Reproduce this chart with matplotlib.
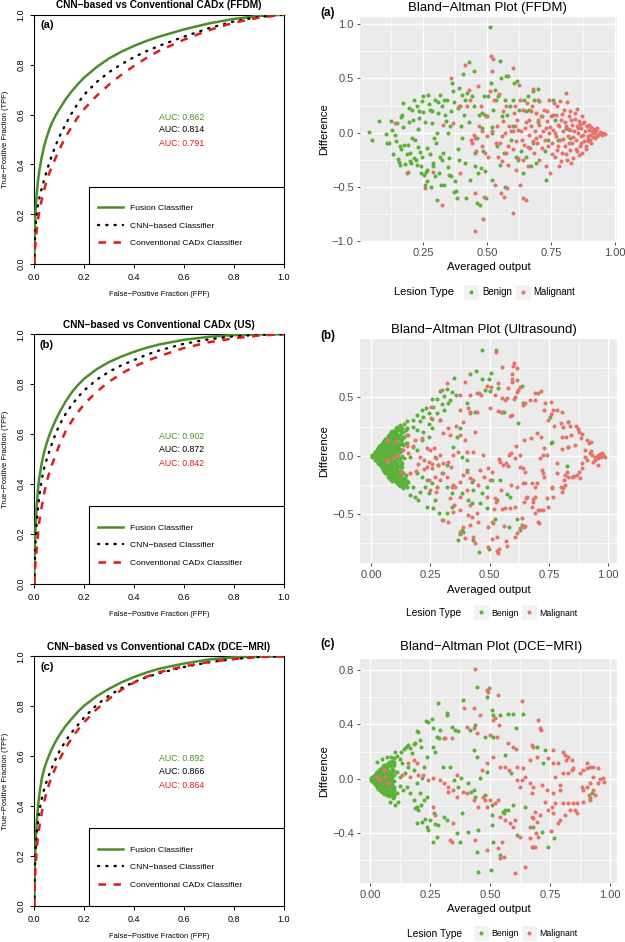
import matplotlib
matplotlib.use('Agg')
import matplotlib.pyplot as plt
from matplotlib.lines import Line2D
from matplotlib.patches import Rectangle

plt.rcParams['font.family'] = ['Liberation Sans', 'DejaVu Sans']

# ---------------- ROC data ----------------
ROC_TITLES = ['CNN\u2212based vs Conventional CADx (FFDM)',
              'CNN\u2212based vs Conventional CADx (US)',
              'CNN\u2212based vs Conventional CADx (DCE\u2212MRI)']
ROC_TAGS = ['(a)', '(b)', '(c)']
AUC_FUSION = ['0.862', '0.902', '0.892']
AUC_CNN = ['0.814', '0.872', '0.866']
AUC_CONV = ['0.791', '0.842', '0.864']
LEGEND_LABELS = ['Fusion Classifier', 'CNN\u2212based Classifier', 'Conventional CADx Classifier']

FUSION_A_FPF = [0, 0.001, 0.003, 0.006, 0.01, 0.015, 0.02, 0.03, 0.04, 0.05, 0.06, 0.07, 0.085, 0.1, 0.125, 0.15,
                0.175, 0.2, 0.25, 0.3, 0.35, 0.4, 0.45, 0.5, 0.6, 0.7, 0.8, 0.9, 1.0]
FUSION_A_TPF = [0, 0.10, 0.17, 0.23, 0.285, 0.335, 0.375, 0.43, 0.475, 0.51, 0.54, 0.565, 0.595, 0.62, 0.66, 0.693,
                0.722, 0.748, 0.79, 0.825, 0.852, 0.875, 0.895, 0.912, 0.941, 0.965, 0.983, 0.995, 1.0]
CNN_A_FPF = [0, 0.003, 0.006, 0.01, 0.015, 0.02, 0.03, 0.04, 0.05, 0.06, 0.07, 0.085, 0.1, 0.125, 0.15, 0.175, 0.2,
             0.25, 0.3, 0.35, 0.4, 0.45, 0.5, 0.6, 0.7, 0.8, 0.9, 1.0]
CNN_A_TPF = [0, 0.11, 0.16, 0.205, 0.24, 0.265, 0.305, 0.34, 0.375, 0.405, 0.435, 0.475, 0.51, 0.56, 0.605, 0.645, 0.68,
             0.73, 0.77, 0.802, 0.83, 0.854, 0.875, 0.912, 0.946, 0.973, 0.991, 1.0]
CONV_A_FPF = [0, 0.003, 0.006, 0.01, 0.015, 0.02, 0.03, 0.04, 0.05, 0.06, 0.07, 0.085, 0.1, 0.125, 0.15, 0.175, 0.2,
              0.25, 0.3, 0.35, 0.4, 0.45, 0.5, 0.6, 0.7, 0.8, 0.9, 1.0]
CONV_A_TPF = [0, 0.06, 0.10, 0.14, 0.18, 0.21, 0.26, 0.30, 0.335, 0.365, 0.39, 0.425, 0.458, 0.51, 0.55, 0.59, 0.622,
              0.675, 0.72, 0.76, 0.795, 0.827, 0.855, 0.90, 0.938, 0.968, 0.988, 1.0]

FUSION_B_FPF = [0, 0.001, 0.003, 0.006, 0.01, 0.015, 0.02, 0.03, 0.04, 0.05, 0.06, 0.07, 0.085, 0.1, 0.125, 0.15,
                0.175, 0.2, 0.25, 0.3, 0.35, 0.4, 0.45, 0.5, 0.6, 0.7, 0.8, 0.9, 1.0]
FUSION_B_TPF = [0, 0.10, 0.18, 0.25, 0.32, 0.38, 0.425, 0.485, 0.53, 0.565, 0.595, 0.62, 0.655, 0.685, 0.73, 0.767,
                0.797, 0.822, 0.86, 0.889, 0.911, 0.93, 0.946, 0.959, 0.978, 0.99, 0.997, 0.9995, 1.0]
CNN_B_FPF = [0, 0.003, 0.006, 0.01, 0.015, 0.02, 0.03, 0.04, 0.05, 0.06, 0.07, 0.085, 0.1, 0.125, 0.15, 0.175, 0.2,
             0.25, 0.3, 0.35, 0.4, 0.45, 0.5, 0.6, 0.7, 0.8, 0.9, 1.0]
CNN_B_TPF = [0, 0.13, 0.19, 0.25, 0.305, 0.35, 0.42, 0.465, 0.50, 0.53, 0.56, 0.60, 0.635, 0.68, 0.717, 0.748, 0.775,
             0.818, 0.85, 0.876, 0.897, 0.918, 0.935, 0.962, 0.98, 0.992, 0.998, 1.0]
CONV_B_FPF = [0, 0.003, 0.006, 0.01, 0.015, 0.02, 0.03, 0.04, 0.05, 0.06, 0.07, 0.085, 0.1, 0.125, 0.15, 0.175, 0.2,
              0.25, 0.3, 0.35, 0.4, 0.45, 0.5, 0.6, 0.7, 0.8, 0.9, 1.0]
CONV_B_TPF = [0, 0.06, 0.10, 0.145, 0.20, 0.25, 0.31, 0.365, 0.41, 0.445, 0.475, 0.515, 0.555, 0.61, 0.652, 0.688, 0.72,
              0.77, 0.81, 0.843, 0.87, 0.893, 0.912, 0.945, 0.968, 0.984, 0.995, 1.0]

FUSION_C_FPF = [0, 0.001, 0.003, 0.006, 0.01, 0.015, 0.02, 0.03, 0.04, 0.05, 0.06, 0.07, 0.085, 0.1, 0.125, 0.15,
                0.175, 0.2, 0.25, 0.3, 0.35, 0.4, 0.45, 0.5, 0.6, 0.7, 0.8, 0.9, 1.0]
FUSION_C_TPF = [0, 0.12, 0.20, 0.27, 0.34, 0.40, 0.445, 0.51, 0.55, 0.58, 0.605, 0.628, 0.658, 0.683, 0.72, 0.75,
                0.778, 0.802, 0.84, 0.87, 0.896, 0.917, 0.935, 0.95, 0.971, 0.987, 0.996, 0.999, 1.0]
CNN_C_FPF = [0, 0.003, 0.006, 0.01, 0.015, 0.02, 0.03, 0.04, 0.05, 0.06, 0.07, 0.085, 0.1, 0.125, 0.15, 0.175, 0.2,
             0.25, 0.3, 0.35, 0.4, 0.45, 0.5, 0.6, 0.7, 0.8, 0.9, 1.0]
CNN_C_TPF = [0, 0.17, 0.24, 0.29, 0.34, 0.38, 0.43, 0.47, 0.50, 0.527, 0.552, 0.587, 0.618, 0.66, 0.695, 0.725, 0.755,
             0.805, 0.843, 0.873, 0.897, 0.916, 0.932, 0.957, 0.976, 0.989, 0.997, 1.0]
CONV_C_FPF = [0, 0.003, 0.006, 0.01, 0.015, 0.02, 0.03, 0.04, 0.05, 0.06, 0.07, 0.085, 0.1, 0.125, 0.15, 0.175, 0.2,
              0.25, 0.3, 0.35, 0.4, 0.45, 0.5, 0.6, 0.7, 0.8, 0.9, 1.0]
CONV_C_TPF = [0, 0.12, 0.17, 0.23, 0.28, 0.315, 0.375, 0.42, 0.458, 0.49, 0.518, 0.553, 0.585, 0.632, 0.672, 0.706,
              0.736, 0.788, 0.83, 0.866, 0.895, 0.918, 0.936, 0.96, 0.977, 0.989, 0.997, 1.0]

# ---------------- Bland-Altman data (averaged output, difference) ----------------
BA_TITLES = ['Bland\u2212Altman Plot (FFDM)', 'Bland\u2212Altman Plot (Ultrasound)', 'Bland\u2212Altman Plot (DCE\u2212MRI)']
LESION_LABELS = ['Benign', 'Malignant']

FFDM_BENIGN = [
    (0.039, 0.006), (0.049, -0.065), (0.076, 0.11), (0.103, -0.01), (0.109, -0.096), (0.116, -0.10), (0.125, 0.105),
    (0.129, 0.028), (0.132, -0.20), (0.138, -0.02), (0.142, -0.08), (0.146, 0.09), (0.151, -0.24), (0.155, -0.27),
    (0.158, -0.127), (0.162, -0.15), (0.164, 0.145), (0.167, 0.16), (0.171, 0.27), (0.175, -0.117), (0.18, -0.29),
    (0.186, -0.37), (0.19, -0.117), (0.193, 0.23), (0.197, -0.26), (0.2, -0.19), (0.204, -0.28), (0.208, 0.21),
    (0.21, 0.12), (0.214, -0.235), (0.217, -0.065), (0.22, -0.25), (0.224, 0.25), (0.228, -0.13), (0.23, 0.037),
    (0.233, 0.136), (0.237, -0.18), (0.241, -0.37), (0.243, -0.31), (0.246, 0.29), (0.249, 0.336), (0.251, 0.194),
    (0.254, -0.39), (0.257, -0.48), (0.26, -0.36), (0.263, -0.14), (0.266, -0.34), (0.27, 0.35), (0.272, 0.26),
    (0.276, 0.21), (0.28, -0.5), (0.283, 0.09), (0.287, -0.28), (0.29, -0.31), (0.293, -0.05), (0.296, 0.305),
    (0.3, -0.1), (0.303, -0.62), (0.307, 0.28), (0.309, 0.18), (0.312, -0.37), (0.316, 0.35), (0.32, -0.48),
    (0.322, 0.244), (0.325, -0.25), (0.329, -0.19), (0.333, -0.48), (0.336, 0.167), (0.34, 0.105), (0.342, 0.305),
    (0.346, -0.003), (0.349, -0.235), (0.351, -0.39), (0.355, 0.059), (0.359, -0.40), (0.364, 0.46), (0.368, 0.38),
    (0.371, -0.55), (0.375, -0.45), (0.379, -0.54), (0.382, -0.6), (0.386, 0.228), (0.388, -0.25), (0.391, 0.41),
    (0.395, 0.244), (0.399, 0.059), (0.401, -0.05), (0.404, 0.537), (0.408, 0.167), (0.412, -0.28), (0.414, 0.305),
    (0.418, -0.6), (0.421, 0.367), (0.428, 0.654), (0.434, -0.435), (0.441, 0.336), (0.447, 0.568), (0.451, -0.188),
    (0.454, -0.31), (0.46, -0.65), (0.464, -0.373), (0.467, 0.167), (0.47, -0.667), (0.474, -0.327), (0.478, 0.043),
    (0.48, 0.182), (0.484, -0.173), (0.487, 0.336), (0.491, 0.167), (0.496, -0.6), (0.5, 0.151), (0.504, 0.336),
    (0.509, 0.97), (0.513, 0.46), (0.517, -0.003), (0.52, -0.435), (0.524, 0.213), (0.53, 0.398), (0.536, 0.305),
    (0.539, -0.127), (0.543, 0.336), (0.549, 0.66), (0.553, 0.506), (0.559, 0.151), (0.566, -0.188), (0.57, -0.497),
    (0.572, 0.52), (0.579, 0.167), (0.583, 0.52), (0.588, 0.244), (0.592, -0.065), (0.599, 0.059), (0.605, 0.46),
    (0.612, -0.22), (0.618, 0.475), (0.625, 0.213), (0.632, -0.173), (0.638, -0.373), (0.645, 0.305), (0.651, -0.22),
    (0.658, 0.336), (0.664, 0.213), (0.671, -0.31), (0.678, 0.383), (0.684, 0.305), (0.691, -0.28), (0.697, 0.404),
    (0.704, 0.29), (0.714, 0.151), (0.724, -0.173), (0.728, -0.435), (0.737, -0.065), (0.757, 0.305), (0.763, 0.12),
    (0.776, -0.065), (0.809, 0.043), (0.822, -0.05),
    (0.16, -0.3), (0.17, 0.05), (0.185, -0.2), (0.195, 0.1), (0.205, -0.05), (0.215, 0.3), (0.225, -0.3),
    (0.235, 0.2), (0.245, -0.22), (0.255, 0.1), (0.265, -0.45), (0.275, -0.2), (0.285, 0.2), (0.295, -0.4),
    (0.305, 0.0), (0.315, -0.22), (0.33, 0.3), (0.345, -0.32), (0.36, 0.2), (0.37, 0.28), (0.385, -0.15),
    (0.4, 0.35), (0.43, 0.1), (0.45, 0.25), (0.46, -0.05), (0.49, -0.35), (0.52, 0.05), (0.55, -0.3),
    (0.57, 0.3), (0.6, 0.3), (0.62, -0.25), (0.65, 0.2), (0.68, -0.1), (0.7, 0.1)]

FFDM_MALIGNANT = [
    (0.138, 0.09), (0.191, -0.367), (0.257, -0.51), (0.29, -0.364), (0.325, -0.667), (0.329, 0.074), (0.359, 0.5),
    (0.366, 0.09), (0.388, 0.244), (0.395, -0.373), (0.414, 0.623), (0.421, 0.244), (0.428, 0.398), (0.434, 0.305),
    (0.438, -0.065), (0.441, -0.096), (0.447, -0.018), (0.451, -0.05), (0.454, -0.56), (0.458, -0.173), (0.463, 0.43),
    (0.467, 0.059), (0.474, 0.244), (0.478, 0.012), (0.48, -0.127), (0.484, -0.8), (0.487, -0.59), (0.451, -0.91),
    (0.493, -0.188), (0.496, 0.151), (0.5, -0.034), (0.504, -0.22), (0.509, 0.383), (0.513, 0.707), (0.517, 0.568),
    (0.52, 0.012), (0.524, 0.676), (0.526, 0.305), (0.53, -0.48), (0.533, -0.096), (0.537, 0.059), (0.542, -0.22),
    (0.546, 0.352), (0.549, -0.096), (0.553, -0.56), (0.557, -0.034), (0.559, -0.265), (0.562, 0.105), (0.566, -0.59),
    (0.57, -0.003), (0.572, -0.188), (0.575, 0.244), (0.579, -0.51), (0.583, -0.127), (0.586, 0.059), (0.592, 0.012),
    (0.599, 0.6), (0.601, -0.737), (0.605, 0.182), (0.609, 0.059), (0.612, -0.08), (0.614, -0.343), (0.618, 0.12),
    (0.622, -0.235), (0.625, 0.444), (0.628, -0.48), (0.632, 0.012), (0.636, -0.065), (0.638, 0.213), (0.641, -0.6),
    (0.645, -0.111), (0.649, 0.043), (0.651, -0.62), (0.654, 0.275), (0.658, -0.31), (0.662, -0.018), (0.664, 0.12),
    (0.668, -0.142), (0.671, 0.059), (0.675, 0.244), (0.678, 0.404), (0.68, -0.08), (0.684, -0.188), (0.688, 0.012),
    (0.691, 0.182), (0.693, -0.096), (0.697, 0.305), (0.701, -0.25), (0.704, 0.074), (0.707, -0.034), (0.711, 0.151),
    (0.714, -0.142), (0.717, 0.012), (0.72, 0.213), (0.724, -0.065), (0.728, 0.043), (0.73, -0.31), (0.733, 0.105),
    (0.737, -0.127), (0.741, -0.003), (0.743, 0.305), (0.746, -0.373), (0.75, 0.151), (0.754, -0.096), (0.757, 0.028),
    (0.759, 0.275), (0.763, -0.22), (0.767, -0.034), (0.77, 0.167), (0.772, -0.157), (0.776, 0.074), (0.78, -0.31),
    (0.783, 0.29), (0.786, -0.065), (0.789, 0.12), (0.793, -0.188), (0.796, 0.012), (0.799, 0.213), (0.803, -0.127),
    (0.807, 0.367), (0.809, 0.059), (0.812, -0.25), (0.816, -0.034), (0.82, 0.151), (0.822, -0.157), (0.825, 0.028),
    (0.829, 0.12), (0.833, -0.096), (0.836, -0.235), (0.838, 0.012), (0.842, 0.182), (0.846, -0.065), (0.849, 0.059),
    (0.851, -0.173), (0.855, -0.003), (0.859, 0.105), (0.862, -0.127), (0.866, -0.034), (0.868, 0.043), (0.872, -0.188),
    (0.875, 0.09), (0.879, -0.08), (0.882, 0.012), (0.886, -0.127), (0.888, 0.059), (0.892, -0.034), (0.895, -0.08),
    (0.899, 0.028), (0.901, -0.018), (0.905, -0.096), (0.909, 0.012), (0.914, -0.04), (0.92, -0.003), (0.925, 0.022),
    (0.93, -0.034), (0.936, -0.009), (0.941, 0.003), (0.947, -0.022), (0.954, -0.003), (0.96, -0.012), (0.599, 0.012),
    (0.735, 0.2), (0.745, 0.05), (0.752, -0.2), (0.758, 0.16), (0.765, 0.0), (0.772, 0.25), (0.778, -0.12),
    (0.782, 0.06), (0.788, -0.26), (0.792, 0.17), (0.797, -0.06), (0.802, 0.1), (0.806, -0.2), (0.811, 0.28),
    (0.815, 0.03), (0.819, -0.1), (0.824, 0.2), (0.828, -0.28), (0.832, 0.07), (0.837, -0.04), (0.841, 0.13),
    (0.846, -0.15), (0.85, 0.22), (0.854, 0.04), (0.858, -0.21), (0.863, 0.08), (0.867, -0.1), (0.871, 0.15),
    (0.876, -0.02), (0.88, 0.1), (0.885, -0.15), (0.89, 0.06), (0.894, -0.06), (0.898, 0.07), (0.903, -0.07),
    (0.907, 0.05), (0.912, 0.0), (0.918, 0.03), (0.923, -0.05), (0.928, 0.04), (0.7, 0.12), (0.69, -0.05),
    (0.67, 0.2), (0.66, -0.13), (0.65, 0.1), (0.64, -0.25), (0.63, 0.3), (0.62, 0.02), (0.61, 0.25), (0.6, -0.15),
    (0.58, -0.3), (0.56, 0.2)]

US_BENIGN = [
    (0.005, 0.0), (0.005, 0.008), (0.005, -0.008), (0.01, 0.015), (0.01, -0.01), (0.01, 0.0),
    (0.015, 0.03), (0.015, -0.02), (0.015, 0.01), (0.015, -0.035),
    (0.02, 0.04), (0.02, 0.0), (0.02, -0.04), (0.02, 0.02), (0.02, -0.02),
    (0.025, 0.05), (0.025, 0.02), (0.025, -0.01), (0.025, -0.05), (0.025, 0.035),
    (0.03, 0.07), (0.03, 0.03), (0.03, -0.02), (0.03, -0.06), (0.03, 0.0), (0.03, 0.05),
    (0.035, 0.08), (0.035, 0.04), (0.035, -0.03), (0.035, -0.075), (0.035, 0.01), (0.035, -0.05),
    (0.04, 0.09), (0.04, 0.05), (0.04, 0.01), (0.04, -0.04), (0.04, -0.09), (0.04, 0.07), (0.04, -0.065),
    (0.045, 0.1), (0.045, 0.06), (0.045, 0.02), (0.045, -0.02), (0.045, -0.06), (0.045, -0.1),
    (0.05, 0.12), (0.05, 0.08), (0.05, 0.03), (0.05, -0.01), (0.05, -0.05), (0.05, -0.09), (0.05, -0.12),
    (0.055, 0.13), (0.055, 0.09), (0.055, 0.05), (0.055, 0.0), (0.055, -0.04), (0.055, -0.08), (0.055, -0.13),
    (0.06, 0.14), (0.06, 0.1), (0.06, 0.06), (0.06, 0.02), (0.06, -0.03), (0.06, -0.07), (0.06, -0.11), (0.06, -0.15),
    (0.065, 0.15), (0.065, 0.11), (0.065, 0.07), (0.065, 0.03), (0.065, -0.02), (0.065, -0.06), (0.065, -0.1), (0.065, -0.14),
    (0.07, 0.17), (0.07, 0.12), (0.07, 0.08), (0.07, 0.04), (0.07, -0.01), (0.07, -0.05), (0.07, -0.1), (0.07, -0.15), (0.07, -0.18),
    (0.075, 0.18), (0.075, 0.14), (0.075, 0.09), (0.075, 0.05), (0.075, 0.0), (0.075, -0.04), (0.075, -0.09), (0.075, -0.13), (0.075, -0.17),
    (0.08, 0.19), (0.08, 0.15), (0.08, 0.1), (0.08, 0.06), (0.08, 0.01), (0.08, -0.03), (0.08, -0.08), (0.08, -0.12), (0.08, -0.17), (0.08, -0.2),
    (0.085, 0.2), (0.085, 0.16), (0.085, 0.11), (0.085, 0.07), (0.085, 0.02), (0.085, -0.02), (0.085, -0.07), (0.085, -0.11), (0.085, -0.15), (0.085, -0.19),
    (0.09, 0.21), (0.09, 0.17), (0.09, 0.12), (0.09, 0.08), (0.09, 0.03), (0.09, -0.01), (0.09, -0.06), (0.09, -0.1), (0.09, -0.14), (0.09, -0.18), (0.09, -0.22),
    (0.095, 0.2), (0.095, 0.14), (0.095, 0.09), (0.095, 0.04), (0.095, 0.0), (0.095, -0.05), (0.095, -0.09), (0.095, -0.13), (0.095, -0.2),
    (0.1, 0.22), (0.1, 0.18), (0.1, 0.13), (0.1, 0.1), (0.1, 0.05), (0.1, 0.01), (0.1, -0.04), (0.1, -0.08), (0.1, -0.12), (0.1, -0.16), (0.1, -0.21),
    (0.105, 0.24), (0.105, 0.16), (0.105, 0.11), (0.105, 0.06), (0.105, -0.03), (0.105, -0.11), (0.105, -0.19), (0.105, -0.23),
    (0.11, 0.25), (0.11, 0.19), (0.11, 0.12), (0.11, 0.07), (0.11, 0.02), (0.11, -0.06), (0.11, -0.1), (0.11, -0.15), (0.11, -0.21),
    (0.115, 0.22), (0.115, 0.15), (0.115, 0.08), (0.115, -0.02), (0.115, -0.13), (0.115, -0.18), (0.115, -0.24),
    (0.12, 0.26), (0.12, 0.18), (0.12, 0.1), (0.12, 0.03), (0.12, -0.05), (0.12, -0.12), (0.12, -0.2), (0.12, -0.26),
    (0.125, 0.21), (0.125, 0.12), (0.125, -0.08), (0.125, -0.17), (0.125, -0.22),
    (0.13, 0.24), (0.13, 0.14), (0.13, 0.05), (0.13, -0.1), (0.13, -0.19), (0.13, -0.25),
    (0.135, 0.2), (0.135, 0.09), (0.135, -0.15), (0.135, -0.22), (0.135, -0.28),
    (0.14, 0.27), (0.14, 0.16), (0.14, -0.02), (0.14, -0.2), (0.14, -0.26),
    (0.145, 0.22), (0.145, 0.11), (0.145, -0.17), (0.145, -0.24), (0.15, 0.3), (0.15, 0.18), (0.15, -0.22), (0.15, -0.27),
    (0.466, 0.905), (0.527, 0.911), (0.417, 0.704), (0.442, 0.724), (0.466, 0.661), (0.499, 0.661), (0.35, 0.667),
    (0.291, 0.56), (0.319, 0.572), (0.34, 0.549), (0.358, 0.523), (0.309, 0.509), (0.277, 0.491), (0.256, 0.489),
    (0.333, 0.48), (0.326, 0.451), (0.298, 0.445), (0.263, 0.422), (0.232, 0.408), (0.213, 0.394), (0.246, 0.365),
    (0.277, 0.365), (0.306, 0.394), (0.192, 0.351), (0.218, 0.336), (0.256, 0.319), (0.291, 0.307), (0.178, 0.307),
    (0.206, 0.302), (0.242, 0.273), (0.178, 0.25), (0.153, 0.236), (0.192, 0.221), (0.218, 0.207), (0.256, 0.236),
    (0.375, 0.236), (0.403, 0.451), (0.417, 0.365), (0.361, 0.164), (0.347, 0.078), (0.385, -0.009), (0.403, -0.037),
    (0.438, 0.379), (0.504, 0.71), (0.48, 0.566), (0.501, 0.552), (0.537, 0.58), (0.551, 0.379), (0.56, 0.379),
    (0.635, 0.6), (0.621, 0.279), (0.639, 0.451), (0.754, 0.336), (0.757, 0.106), (0.761, 0.121), (0.824, -0.089),
    (0.831, 0.293), (0.831, 0.078), (0.572, -0.333), (0.586, -0.353), (0.617, -0.54), (0.628, -0.641), (0.635, -0.598),
    (0.583, -0.612), (0.522, -0.543), (0.466, -0.325), (0.431, -0.296), (0.424, -0.224), (0.403, -0.124), (0.41, -0.382),
    (0.424, -0.411), (0.382, -0.325), (0.389, -0.655), (0.382, -0.641), (0.368, -0.727), (0.375, -0.67), (0.431, -0.727),
    (0.455, -0.828), (0.499, -0.799), (0.459, -0.411), (0.487, -0.454), (0.529, -0.382), (0.34, -0.44), (0.305, -0.555),
    (0.319, -0.497), (0.288, -0.497), (0.263, -0.454), (0.235, -0.44), (0.242, -0.325), (0.228, -0.267), (0.206, -0.31),
    (0.199, -0.382), (0.185, -0.353), (0.164, -0.339), (0.178, -0.267), (0.157, -0.224), (0.136, -0.239), (0.122, -0.21),
    (0.143, -0.195), (0.192, -0.152), (0.213, -0.181), (0.235, -0.21), (0.256, -0.239), (0.277, -0.267), (0.298, -0.152),
    (0.319, -0.267), (0.34, -0.325), (0.27, -0.382), (0.319, -0.08), (0.284, -0.08), (0.27, -0.009), (0.164, -0.009),
    (0.178, 0.078), (0.15, 0.106), (0.192, 0.049), (0.213, 0.135), (0.242, 0.164), (0.136, 0.164), (0.487, -0.267),
    (0.508, -0.21), (0.544, -0.21)]

US_BENIGN_CORE = [
    (0.01, 0.005), (0.01, -0.005), (0.02, 0.01), (0.02, -0.01), (0.02, 0.03), (0.02, -0.03),
    (0.03, 0.015), (0.03, -0.04), (0.03, 0.06), (0.03, -0.03),
    (0.04, 0.03), (0.04, -0.01), (0.04, -0.03), (0.04, 0.08), (0.04, -0.08),
    (0.05, 0.1), (0.05, 0.055), (0.05, 0.01), (0.05, -0.03), (0.05, -0.07), (0.05, -0.105),
    (0.06, 0.12), (0.06, 0.08), (0.06, 0.04), (0.06, 0.0), (0.06, -0.05), (0.06, -0.09), (0.06, -0.13),
    (0.07, 0.14), (0.07, 0.1), (0.07, 0.06), (0.07, 0.02), (0.07, -0.03), (0.07, -0.07), (0.07, -0.12), (0.07, -0.16),
    (0.08, 0.17), (0.08, 0.125), (0.08, 0.08), (0.08, 0.035), (0.08, -0.01), (0.08, -0.055), (0.08, -0.1),
    (0.08, -0.145), (0.08, -0.185),
    (0.09, 0.19), (0.09, 0.145), (0.09, 0.1), (0.09, 0.055), (0.09, 0.01), (0.09, -0.035), (0.09, -0.08),
    (0.09, -0.12), (0.09, -0.16), (0.09, -0.2),
    (0.1, 0.2), (0.1, 0.155), (0.1, 0.115), (0.1, 0.075), (0.1, 0.03), (0.1, -0.02), (0.1, -0.06), (0.1, -0.1),
    (0.1, -0.14), (0.1, -0.185),
    (0.11, 0.22), (0.11, 0.16), (0.11, 0.1), (0.11, 0.045), (0.11, -0.02), (0.11, -0.08), (0.11, -0.13),
    (0.11, -0.18), (0.11, -0.23),
    (0.12, 0.23), (0.12, 0.14), (0.12, 0.06), (0.12, -0.02), (0.12, -0.09), (0.12, -0.16), (0.12, -0.23),
    (0.13, 0.2), (0.13, 0.1), (0.13, 0.0), (0.13, -0.06), (0.13, -0.14), (0.13, -0.22)]

US_MALIGNANT = [
    (0.527, 0.888), (0.553, 0.759), (0.604, 0.794), (0.6, 0.771), (0.615, 0.756), (0.596, 0.702), (0.593, 0.656),
    (0.593, 0.636), (0.614, 0.65), (0.628, 0.593), (0.621, 0.564), (0.614, 0.55), (0.607, 0.507), (0.604, 0.49),
    (0.576, 0.585), (0.537, 0.628), (0.487, 0.599), (0.506, 0.593), (0.522, 0.521), (0.565, 0.479), (0.55, 0.493),
    (0.571, 0.493), (0.67, 0.479), (0.691, 0.479), (0.691, 0.536), (0.705, 0.536), (0.716, 0.559), (0.649, 0.45),
    (0.639, 0.436), (0.733, 0.45), (0.758, 0.464), (0.73, 0.393), (0.768, 0.393), (0.786, 0.393), (0.803, 0.378),
    (0.759, 0.358), (0.744, 0.307), (0.534, 0.387), (0.548, 0.378), (0.593, 0.35), (0.586, 0.341), (0.501, 0.407),
    (0.831, 0.292), (0.838, 0.255), (0.864, 0.255), (0.873, 0.226), (0.876, 0.203), (0.89, 0.186), (0.887, 0.149),
    (0.91, 0.135), (0.927, 0.12), (0.918, 0.106), (0.8, 0.278), (0.772, 0.255), (0.81, 0.249), (0.841, 0.178),
    (0.82, 0.163), (0.806, 0.163), (0.86, 0.092), (0.829, 0.077), (0.806, 0.054), (0.902, 0.049), (0.927, 0.043),
    (0.923, 0.02), (0.933, 0.006), (0.944, -0.009), (0.955, 0.006), (0.965, 0.014), (0.975, 0.02), (0.979, 0.006),
    (0.986, -0.009), (0.969, -0.009), (0.958, -0.023), (0.944, -0.037), (0.937, -0.052), (0.955, -0.08),
    (0.902, -0.009), (0.909, -0.037), (0.888, -0.066), (0.888, -0.109), (0.876, -0.138), (0.867, -0.166),
    (0.881, -0.195), (0.857, -0.175), (0.849, -0.181), (0.824, -0.138), (0.817, -0.166), (0.829, -0.186),
    (0.815, -0.209), (0.817, -0.252), (0.8, -0.266), (0.81, -0.281), (0.803, -0.309), (0.782, -0.152), (0.786, -0.066),
    (0.761, -0.266), (0.768, -0.352), (0.761, -0.281), (0.74, -0.367), (0.747, -0.438), (0.726, -0.467), (0.712, -0.467),
    (0.705, -0.567), (0.691, -0.352), (0.691, -0.266), (0.698, -0.238), (0.677, -0.238), (0.684, -0.375), (0.681, -0.395),
    (0.656, -0.352), (0.649, -0.238), (0.642, -0.232), (0.649, -0.138), (0.726, -0.152), (0.73, -0.181), (0.719, -0.123),
    (0.712, -0.023), (0.726, 0.006), (0.74, 0.006), (0.73, 0.063), (0.716, 0.163), (0.698, 0.192), (0.674, 0.149),
    (0.646, 0.135), (0.61, 0.083), (0.628, 0.006), (0.59, 0.02), (0.581, 0.006), (0.567, -0.066), (0.558, -0.08),
    (0.576, -0.089), (0.539, -0.032), (0.542, -0.052), (0.628, -0.095), (0.642, -0.109), (0.607, -0.023),
    (0.511, -0.138), (0.5, -0.209), (0.487, -0.352), (0.522, -0.367), (0.525, -0.395), (0.548, -0.295), (0.59, -0.252),
    (0.614, -0.266), (0.646, -0.395), (0.653, -0.367), (0.68, -0.444), (0.691, -0.496), (0.705, -0.467), (0.708, -0.576),
    (0.52, -0.461), (0.551, -0.461), (0.565, -0.453), (0.586, -0.447), (0.607, -0.438), (0.635, -0.539), (0.646, -0.61),
    (0.508, -0.567), (0.515, -0.582), (0.562, -0.605), (0.614, -0.662), (0.607, -0.696), (0.628, -0.625), (0.649, -0.605),
    (0.53, -0.696), (0.508, -0.719), (0.567, -0.733), (0.571, -0.776), (0.53, -0.817), (0.539, -0.805), (0.534, -0.84),
    (0.492, -0.61),
    (0.066, -0.037), (0.094, -0.023), (0.115, 0.006), (0.136, 0.049), (0.15, 0.083), (0.157, 0.02), (0.178, 0.083),
    (0.185, 0.135), (0.213, 0.149), (0.235, 0.063), (0.249, 0.049), (0.265, 0.063), (0.206, -0.009), (0.221, -0.037),
    (0.242, -0.052), (0.256, -0.072), (0.274, -0.023), (0.291, 0.006), (0.235, -0.095), (0.256, -0.109), (0.221, -0.117),
    (0.199, -0.072), (0.19, -0.129), (0.162, -0.152), (0.284, -0.08), (0.305, -0.066), (0.326, -0.052), (0.336, -0.095),
    (0.347, 0.006), (0.368, 0.034), (0.251, 0.421), (0.298, 0.564), (0.322, 0.622), (0.375, 0.521), (0.396, 0.636),
    (0.417, 0.521), (0.445, 0.536), (0.456, 0.536), (0.462, 0.521), (0.375, 0.393), (0.41, 0.407), (0.417, 0.378),
    (0.445, 0.378), (0.251, 0.321), (0.291, 0.307), (0.326, 0.235), (0.358, 0.255), (0.389, 0.292), (0.438, 0.206),
    (0.302, 0.192), (0.333, 0.178), (0.375, 0.178), (0.396, 0.135), (0.403, 0.034), (0.431, 0.034), (0.473, 0.006),
    (0.305, -0.152), (0.322, -0.181), (0.344, -0.252), (0.34, -0.266), (0.354, -0.266), (0.375, -0.223), (0.389, -0.166),
    (0.403, -0.138), (0.417, -0.195), (0.431, -0.209), (0.452, -0.252), (0.459, -0.123), (0.476, -0.181), (0.494, -0.109),
    (0.277, -0.266), (0.291, -0.209), (0.27, -0.181), (0.242, -0.209), (0.249, -0.295), (0.274, -0.309), (0.298, -0.553),
    (0.326, -0.567), (0.351, -0.424), (0.347, -0.481), (0.375, -0.467), (0.386, -0.61), (0.396, -0.711), (0.375, -0.653),
    (0.417, -0.596), (0.431, -0.696), (0.438, -0.754), (0.445, -0.496), (0.424, -0.524), (0.452, -0.567), (0.417, -0.424),
    (0.494, -0.782), (0.41, -0.51), (0.333, -0.367), (0.375, -0.352), (0.403, -0.295),
    (0.066, 0.135), (0.068, -0.05), (0.1, 0.12), (0.127, -0.15), (0.155, 0.18)]

MRI_BENIGN = [
    (0.005, 0.0), (0.005, 0.008), (0.005, -0.006), (0.01, 0.012), (0.01, -0.01), (0.01, 0.0), (0.01, -0.02),
    (0.015, 0.02), (0.015, -0.015), (0.015, 0.005), (0.015, -0.03),
    (0.02, 0.03), (0.02, 0.0), (0.02, -0.025), (0.02, -0.04), (0.02, 0.015),
    (0.025, 0.04), (0.025, 0.01), (0.025, -0.02), (0.025, -0.045), (0.025, 0.025),
    (0.03, 0.05), (0.03, 0.02), (0.03, -0.01), (0.03, -0.04), (0.03, -0.06),
    (0.035, 0.06), (0.035, 0.03), (0.035, 0.0), (0.035, -0.03), (0.035, -0.055), (0.035, -0.075),
    (0.04, 0.07), (0.04, 0.04), (0.04, 0.01), (0.04, -0.02), (0.04, -0.05), (0.04, -0.08),
    (0.045, 0.075), (0.045, 0.045), (0.045, 0.015), (0.045, -0.015), (0.045, -0.045), (0.045, -0.07), (0.045, -0.09),
    (0.05, 0.08), (0.05, 0.05), (0.05, 0.02), (0.05, -0.01), (0.05, -0.04), (0.05, -0.07), (0.05, -0.1),
    (0.055, 0.09), (0.055, 0.06), (0.055, 0.03), (0.055, 0.0), (0.055, -0.03), (0.055, -0.06), (0.055, -0.09),
    (0.06, 0.1), (0.06, 0.07), (0.06, 0.035), (0.06, 0.005), (0.06, -0.025), (0.06, -0.055), (0.06, -0.085), (0.06, -0.11),
    (0.065, 0.085), (0.065, 0.045), (0.065, 0.015), (0.065, -0.02), (0.065, -0.05), (0.065, -0.08), (0.065, -0.1),
    (0.07, 0.11), (0.07, 0.07), (0.07, 0.03), (0.07, -0.005), (0.07, -0.04), (0.07, -0.075), (0.07, -0.12),
    (0.075, 0.09), (0.075, 0.05), (0.075, 0.01), (0.075, -0.03), (0.075, -0.065), (0.075, -0.1),
    (0.08, 0.12), (0.08, 0.06), (0.08, 0.02), (0.08, -0.02), (0.08, -0.06), (0.08, -0.11), (0.08, -0.13),
    (0.085, 0.1), (0.085, 0.04), (0.085, -0.05), (0.085, -0.09), (0.09, 0.13), (0.09, 0.08), (0.09, 0.0),
    (0.09, -0.04), (0.09, -0.12), (0.095, 0.06), (0.095, -0.08), (0.095, -0.14), (0.1, 0.15), (0.1, 0.1),
    (0.1, 0.03), (0.1, -0.06), (0.1, -0.11),
    (0.028, 0.125), (0.049, 0.142), (0.072, 0.162), (0.086, 0.162), (0.104, 0.199), (0.111, 0.167), (0.125, 0.142),
    (0.128, 0.199), (0.142, 0.216), (0.15, 0.236), (0.16, 0.248), (0.167, 0.223), (0.181, 0.255), (0.188, 0.265),
    (0.174, 0.187), (0.194, 0.351), (0.201, 0.346), (0.208, 0.285), (0.211, 0.236), (0.233, 0.427), (0.243, 0.42),
    (0.257, 0.439), (0.285, 0.555), (0.264, 0.371), (0.278, 0.309), (0.289, 0.297), (0.292, 0.358), (0.306, 0.297),
    (0.319, 0.469), (0.319, 0.481), (0.34, 0.383), (0.354, 0.358), (0.368, 0.351), (0.386, 0.579), (0.417, 0.358),
    (0.438, 0.395), (0.431, 0.211), (0.444, 0.162), (0.444, 0.677), (0.486, 0.599), (0.496, 0.665), (0.479, 0.309),
    (0.514, 0.309), (0.51, 0.506), (0.514, 0.469), (0.542, 0.469), (0.563, 0.174), (0.576, 0.474), (0.597, 0.474),
    (0.608, 0.371), (0.636, 0.474), (0.694, 0.236), (0.729, 0.211), (0.719, 0.113), (0.264, 0.236), (0.271, 0.199),
    (0.236, 0.162), (0.225, 0.088), (0.215, 0.002), (0.194, -0.029), (0.181, 0.064), (0.16, 0.088), (0.146, 0.039),
    (0.132, 0.113), (0.125, 0.015), (0.111, 0.052), (0.125, -0.054), (0.139, -0.083), (0.153, -0.059), (0.167, -0.108),
    (0.181, -0.157), (0.188, -0.218), (0.194, -0.206), (0.201, -0.231), (0.211, -0.194), (0.225, -0.157), (0.239, -0.133),
    (0.208, -0.108), (0.111, -0.108), (0.097, -0.133), (0.118, -0.169), (0.104, -0.194), (0.083, -0.169), (0.194, -0.329),
    (0.215, -0.317), (0.229, -0.3), (0.236, -0.353), (0.243, -0.378), (0.25, -0.304), (0.271, -0.334), (0.285, -0.341),
    (0.267, -0.255), (0.264, -0.464), (0.278, -0.427), (0.308, -0.28), (0.319, -0.304), (0.303, 0.088), (0.333, 0.088),
    (0.35, -0.01), (0.368, -0.059), (0.378, 0.002), (0.382, -0.255), (0.375, -0.464), (0.361, -0.402), (0.41, -0.395),
    (0.419, -0.096), (0.431, -0.083), (0.438, -0.133), (0.451, -0.378), (0.444, -0.537), (0.451, -0.685), (0.503, -0.673),
    (0.511, -0.464), (0.507, -0.341), (0.507, -0.267), (0.51, -0.194), (0.542, -0.562), (0.556, -0.243), (0.558, -0.255),
    (0.563, -0.231), (0.576, -0.231), (0.586, 0.039), (0.597, -0.194), (0.611, -0.415), (0.646, -0.206), (0.681, -0.353),
    (0.681, -0.501), (0.715, -0.39), (0.743, -0.501), (0.768, -0.439), (0.924, -0.108), (0.917, -0.145), (0.41, -0.034),
    (0.458, 0.002), (0.479, -0.12), (0.486, 0.052)]

MRI_BENIGN_CORE = [
    (0.01, 0.005), (0.01, -0.015), (0.02, 0.02), (0.02, -0.01), (0.02, -0.03),
    (0.03, 0.035), (0.03, 0.005), (0.03, -0.025), (0.03, -0.05),
    (0.04, 0.055), (0.04, 0.025), (0.04, -0.005), (0.04, -0.035), (0.04, -0.065),
    (0.05, 0.065), (0.05, 0.035), (0.05, 0.005), (0.05, -0.025), (0.05, -0.055), (0.05, -0.085),
    (0.06, 0.085), (0.06, 0.05), (0.06, 0.02), (0.06, -0.01), (0.06, -0.04), (0.06, -0.07), (0.06, -0.1),
    (0.07, 0.09), (0.07, 0.05), (0.07, 0.01), (0.07, -0.02), (0.07, -0.06), (0.07, -0.1),
    (0.08, 0.1), (0.08, 0.04), (0.08, 0.0), (0.08, -0.04), (0.08, -0.08), (0.08, -0.12),
    (0.09, 0.11), (0.09, 0.05), (0.09, 0.02), (0.09, -0.02), (0.09, -0.06), (0.09, -0.1),
    (0.1, 0.12), (0.1, 0.06), (0.1, -0.02), (0.1, -0.08), (0.1, -0.13)]

MRI_MALIGNANT = [
    (0.438, 0.805), (0.486, 0.653), (0.493, 0.641), (0.535, 0.616), (0.632, 0.572), (0.393, 0.518), (0.431, 0.518),
    (0.458, 0.469), (0.521, 0.444), (0.514, 0.432), (0.538, 0.393), (0.701, 0.432), (0.708, 0.371), (0.711, 0.358),
    (0.403, 0.383), (0.431, 0.371), (0.444, 0.334), (0.34, 0.297), (0.313, 0.297), (0.528, 0.309), (0.5, 0.321),
    (0.576, 0.265), (0.597, 0.236), (0.608, 0.216), (0.674, 0.248), (0.681, 0.236), (0.761, 0.211), (0.806, 0.199),
    (0.813, 0.174), (0.826, 0.162), (0.84, 0.137), (0.817, 0.137), (0.903, 0.113), (0.917, 0.088), (0.931, 0.088),
    (0.951, 0.076), (0.903, 0.076), (0.889, 0.064), (0.764, 0.113), (0.785, 0.113), (0.743, 0.155), (0.694, 0.157),
    (0.667, 0.137), (0.639, 0.076), (0.611, 0.088), (0.542, 0.088), (0.563, 0.088), (0.581, 0.064), (0.514, 0.162),
    (0.486, 0.113), (0.465, 0.064), (0.84, 0.064), (0.847, 0.076), (0.875, 0.039), (0.826, 0.039), (0.806, 0.039),
    (0.771, 0.015), (0.958, -0.005), (0.975, -0.022), (0.972, 0.002), (0.951, -0.034), (0.931, 0.015), (0.917, -0.034),
    (0.903, -0.059), (0.882, -0.059), (0.889, -0.083), (0.931, -0.083), (0.938, -0.12), (0.911, -0.12), (0.917, -0.157),
    (0.889, -0.169), (0.861, -0.182), (0.847, -0.182), (0.826, -0.182), (0.806, -0.182), (0.792, -0.047), (0.792, -0.083),
    (0.764, -0.108), (0.736, -0.083), (0.715, -0.047), (0.681, -0.059), (0.674, -0.108), (0.667, -0.034), (0.646, 0.015),
    (0.632, -0.01), (0.625, -0.059), (0.611, -0.01), (0.833, -0.231), (0.854, -0.231), (0.861, -0.255), (0.813, -0.267),
    (0.792, -0.304), (0.785, -0.329), (0.764, -0.255), (0.757, -0.206), (0.771, -0.182), (0.743, -0.231), (0.729, -0.169),
    (0.708, -0.267), (0.688, -0.243), (0.674, -0.28), (0.681, -0.292), (0.694, -0.317), (0.667, -0.353), (0.667, -0.439),
    (0.69, -0.402), (0.701, -0.427), (0.674, -0.501), (0.688, -0.501), (0.754, -0.383), (0.625, -0.427), (0.597, -0.353),
    (0.604, -0.304), (0.583, -0.329), (0.563, -0.304), (0.542, -0.28), (0.521, -0.182), (0.5, -0.157), (0.535, -0.157),
    (0.479, -0.157), (0.472, -0.133), (0.451, -0.206), (0.431, -0.157), (0.403, -0.108), (0.389, -0.096), (0.361, -0.133),
    (0.347, -0.083), (0.326, -0.059), (0.306, -0.034), (0.292, -0.01), (0.264, 0.002), (0.243, -0.01), (0.222, 0.027),
    (0.347, -0.324), (0.333, -0.452), (0.34, -0.464), (0.438, -0.452), (0.486, -0.525), (0.535, -0.513), (0.549, -0.464),
    (0.542, -0.587), (0.558, -0.575), (0.604, -0.697), (0.646, -0.648), (0.16, 0.113), (0.181, 0.137), (0.194, 0.113),
    (0.201, 0.027), (0.167, 0.015), (0.132, 0.027), (0.056, 0.064), (0.062, 0.015), (0.042, -0.01), (0.028, 0.015),
    (0.076, -0.034), (0.264, -0.206), (0.271, -0.267), (0.486, -0.206), (0.326, -0.096), (0.361, 0.027)]

# ---------------- styling ----------------
W, H = 625, 942
ROC_GREEN = '#4A8E2B'
ROC_RED = '#E3191C'
PT_GREEN = '#5DB13A'
PT_RED = '#E6736B'


def fx(px):
    return px / W


def fy(py):
    return 1 - py / H


def rect(l, t, r, b):
    return [fx(l), fy(b), (r - l) / W, (b - t) / H]


fig = plt.figure(figsize=(6.25, 9.42), dpi=100)

roc_curves = [
    ((FUSION_A_FPF, FUSION_A_TPF), (CNN_A_FPF, CNN_A_TPF), (CONV_A_FPF, CONV_A_TPF)),
    ((FUSION_B_FPF, FUSION_B_TPF), (CNN_B_FPF, CNN_B_TPF), (CONV_B_FPF, CONV_B_TPF)),
    ((FUSION_C_FPF, FUSION_C_TPF), (CNN_C_FPF, CNN_C_TPF), (CONV_C_FPF, CONV_C_TPF)),
]
roc_tops = [14.7, 334.3, 656.3]
roc_title_y = [5.5, 325, 647]
ROC_L, ROC_R, ROC_H = 34.3, 283.7, 249.5

for i in range(3):
    top = roc_tops[i]
    bot = top + ROC_H
    ax = fig.add_axes(rect(ROC_L, top, ROC_R, bot))
    (fx_, fy_), (cx_, cy_), (rx_, ry_) = roc_curves[i]
    l1, = ax.plot(fx_, fy_, color=ROC_GREEN, lw=1.8, label=LEGEND_LABELS[0], zorder=4)
    l2, = ax.plot(cx_, cy_, color='black', lw=1.7, linestyle=(0, (0.5, 3.0)), dash_capstyle='round',
                  label=LEGEND_LABELS[1], zorder=4)
    l3, = ax.plot(rx_, ry_, color=ROC_RED, lw=1.8, linestyle=(0, (3.0, 3.0)), label=LEGEND_LABELS[2], zorder=4)
    ax.set_xlim(0, 1)
    ax.set_ylim(0, 1)
    ticks = [0, 0.2, 0.4, 0.6, 0.8, 1.0]
    labs = ['0.0', '0.2', '0.4', '0.6', '0.8', '1.0']
    ax.set_xticks(ticks)
    ax.set_xticklabels(labs)
    ax.set_yticks(ticks)
    ax.set_yticklabels(labs, rotation=90, va='center')
    ax.tick_params(direction='out', length=3, width=0.7, labelsize=6.5, pad=3.5)
    for s in ax.spines.values():
        s.set_linewidth(0.8)
    ax.add_patch(Rectangle((0.219, 0.0), 0.781, 0.31, transform=ax.transAxes, facecolor='white',
                           edgecolor='black', lw=0.8, zorder=5))
    leg = ax.legend(handles=[l1, l2, l3], loc='center left', bbox_to_anchor=(0.257, 0.154),
                    frameon=False, fontsize=6.1, handlelength=2.85, handletextpad=0.9,
                    labelspacing=1.15, borderpad=0, borderaxespad=0)
    leg.set_zorder(6)
    ax.text(0.591, 0.589, 'AUC: ' + AUC_FUSION[i], color=ROC_GREEN, fontsize=6.3, ha='center', va='center',
            transform=ax.transAxes)
    ax.text(0.591, 0.538, 'AUC: ' + AUC_CNN[i], color='black', fontsize=6.3, ha='center', va='center',
            transform=ax.transAxes)
    ax.text(0.591, 0.484, 'AUC: ' + AUC_CONV[i], color=ROC_RED, fontsize=6.3, ha='center', va='center',
            transform=ax.transAxes)
    ax.text(0.05, 0.958, ROC_TAGS[i], fontweight='bold', fontsize=8, ha='center', va='center',
            transform=ax.transAxes)
    fig.text(fx(159), fy(roc_title_y[i]), ROC_TITLES[i], fontweight='bold', fontsize=7.3,
             ha='center', va='center')
    fig.text(fx(159), fy(bot + 30.5), 'False\u2212Positive Fraction (FPF)', fontsize=5.4,
             ha='center', va='center')
    fig.text(fx(5.5), fy(top + ROC_H / 2), 'True\u2212Positive Fraction (TPF)', fontsize=5.4,
             rotation=90, ha='center', va='center')

# ---------------- Bland-Altman panels ----------------
ba_data = [(FFDM_BENIGN, FFDM_MALIGNANT), (US_BENIGN + US_BENIGN_CORE, US_MALIGNANT),
           (MRI_BENIGN + MRI_BENIGN_CORE, MRI_MALIGNANT)]
ba_box = [(17.3, 241.5), (339.3, 563.3), (659.3, 883.3)]
ba_xlim = [(0.003, 1.007), (-0.047, 1.037), (-0.042, 1.029)]
ba_ylim = [(-1.004, 1.064), (-0.925, 1.0), (-0.771, 0.88)]
ba_xticks = [[0.25, 0.5, 0.75, 1.0], [0, 0.25, 0.5, 0.75, 1.0], [0, 0.25, 0.5, 0.75, 1.0]]
ba_xlabels = [['0.25', '0.50', '0.75', '1.00'], ['0.00', '0.25', '0.50', '0.75', '1.00'],
              ['0.00', '0.25', '0.50', '0.75', '1.00']]
ba_xminor = [[0.125, 0.375, 0.625, 0.875], [0.125, 0.375, 0.625, 0.875], [0.125, 0.375, 0.625, 0.875]]
ba_yticks = [[-1.0, -0.5, 0.0, 0.5, 1.0], [-0.5, 0.0, 0.5], [-0.4, 0.0, 0.4, 0.8]]
ba_ylabels = [['\u22121.0', '\u22120.5', '0.0', '0.5', '1.0'], ['\u22120.5', '0.0', '0.5'],
              ['\u22120.4', '0.0', '0.4', '0.8']]
ba_yminor = [[-0.75, -0.25, 0.25, 0.75], [-0.75, -0.25, 0.25, 0.75], [-0.6, -0.2, 0.2, 0.6]]
ba_title_pos = [(487.5, 8), (484, 330), (491, 646.7)]
ba_tag_pos = [(328, 13), (328, 336), (328, 644)]
ba_xlab_y = [267, 590, 908.7]
ba_leg_y = [292, 613, 934]
ba_leg_title_x = [394.3, 406, 406.7]
ba_leg_title_fs = [8.0, 7.4, 7.4]
ba_leg_key_x = [464, 473, 473.5]
ba_leg_fs = [6.9, 6.3, 6.3]

for i in range(3):
    t, b = ba_box[i]
    ax = fig.add_axes(rect(360, t, 617, b))
    ax.set_facecolor('#EBEBEB')
    ben, mal = ba_data[i]
    bx = [p[0] for p in ben]
    by = [p[1] for p in ben]
    mx = [p[0] for p in mal]
    my = [p[1] for p in mal]
    ax.scatter(bx, by, s=8.5, color=PT_GREEN, linewidths=0, zorder=3)
    ax.scatter(mx, my, s=8.5, color=PT_RED, linewidths=0, zorder=3)
    ax.set_xlim(*ba_xlim[i])
    ax.set_ylim(*ba_ylim[i])
    ax.set_xticks(ba_xticks[i])
    ax.set_xticklabels(ba_xlabels[i])
    ax.set_xticks(ba_xminor[i], minor=True)
    ax.set_yticks(ba_yticks[i])
    ax.set_yticklabels(ba_ylabels[i])
    ax.set_yticks(ba_yminor[i], minor=True)
    ax.grid(which='major', color='white', lw=1.0)
    ax.grid(which='minor', color='white', lw=0.5)
    ax.set_axisbelow(True)
    for s in ax.spines.values():
        s.set_visible(False)
    ax.tick_params(which='major', length=2.5, width=0.6, color='#333333', labelcolor='#4D4D4D',
                   labelsize=8, pad=2)
    ax.tick_params(which='minor', length=0)
    fig.text(fx(ba_title_pos[i][0]), fy(ba_title_pos[i][1]), BA_TITLES[i], fontsize=9.5,
             ha='center', va='center')
    fig.text(fx(ba_tag_pos[i][0]), fy(ba_tag_pos[i][1]), '(' + 'abc'[i] + ')', fontsize=8.4,
             fontweight='bold', ha='center', va='center')
    fig.text(fx(488.5), fy(ba_xlab_y[i]), 'Averaged output', fontsize=8.2, ha='center', va='center')
    fig.text(fx(324), fy((t + b) / 2), 'Difference', fontsize=8.2, rotation=90, ha='center', va='center')
    fig.text(fx(ba_leg_title_x[i]), fy(ba_leg_y[i]), 'Lesion Type', fontsize=ba_leg_title_fs[i],
             ha='left', va='center')
    handles = []
    for c in (PT_GREEN, PT_RED):
        bg = Line2D([], [], marker='s', ms=10.8, color='#F2F2F2', ls='', mew=0)
        dot = Line2D([], [], marker='o', ms=2.9, color=c, ls='', mew=0)
        handles.append((bg, dot))
    fs = ba_leg_fs[i]
    hl = 10.8 / fs
    ax.legend(handles, LESION_LABELS, loc='center left',
              bbox_to_anchor=(fx(ba_leg_key_x[i]), fy(ba_leg_y[i])),
              bbox_transform=fig.transFigure, ncol=2, frameon=False, fontsize=fs,
              handlelength=hl, handletextpad=0.35, columnspacing=0.3, borderpad=0,
              borderaxespad=0, numpoints=1)

fig.savefig('out.png', dpi=100)
